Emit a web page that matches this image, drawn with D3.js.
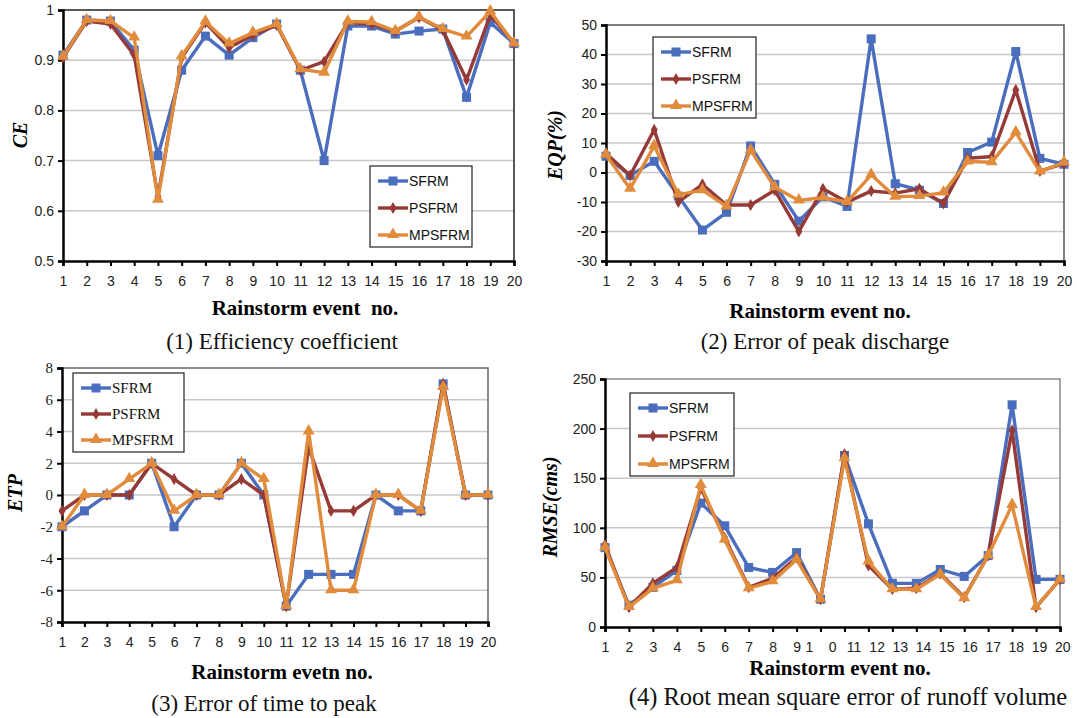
<!DOCTYPE html>
<html>
<head>
<meta charset="utf-8">
<script src="https://cdn.jsdelivr.net/npm/d3@7"></script>
<style>
  body { margin: 0; background: #fff; }
  svg { display: block; }
</style>
</head>
<body>
<svg id="chart" width="1077" height="718"></svg>
<script>
// rainstorm events 1..20
const events = d3.range(1, 21);
const seriesNames = ["SFRM", "PSFRM", "MPSFRM"];

// (1) efficiency coefficient
const ceSFRM   = [0.91, 0.98, 0.978, 0.92, 0.71, 0.88, 0.948, 0.91, 0.945, 0.972, 0.88, 0.70, 0.968, 0.968, 0.952, 0.958, 0.962, 0.826, 0.975, 0.933];
const cePSFRM  = [0.905, 0.978, 0.972, 0.91, 0.628, 0.905, 0.975, 0.925, 0.95, 0.97, 0.88, 0.897, 0.975, 0.972, 0.958, 0.985, 0.96, 0.861, 0.99, 0.935];
const ceMPSFRM = [0.907, 0.98, 0.978, 0.945, 0.622, 0.908, 0.977, 0.933, 0.955, 0.972, 0.882, 0.875, 0.977, 0.976, 0.958, 0.986, 0.962, 0.947, 0.997, 0.933];
const ceTicks  = [0.5, 0.6, 0.7, 0.8, 0.9, 1];

// (2) error of peak discharge
const eqpSFRM   = [5.5, -1, 3.8, -8, -19.5, -13.5, 9, -4, -16.5, -8.2, -11.5, 45.3, -3.8, -6, -10.5, 6.8, 10.3, 41, 4.8, 2.8];
const eqpPSFRM  = [6.5, -1, 14.5, -10, -4, -11, -11, -6, -20, -5.5, -10, -6.3, -7, -5.5, -10.5, 4.8, 5.4, 28, 0.5, 3];
const eqpMPSFRM = [6, -5.5, 9, -7.5, -6, -11.5, 7.5, -5, -9.5, -8.5, -10, -0.8, -8.2, -8, -6.8, 3.7, 3.5, 13.6, 0.3, 3.4];
const eqpTicks  = [-30, -20, -10, 0, 10, 20, 30, 40, 50];

// (3) error of time to peak
const etpSFRM   = [-2, -1, 0, 0, 2, -2, 0, 0, 2, 0, -7, -5, -5, -5, 0, -1, -1, 7, 0, 0];
const etpPSFRM  = [-1, 0, 0, 0, 2, 1, 0, 0, 1, 0, -7, 3, -1, -1, 0, 0, -1, 7, 0, 0];
const etpMPSFRM = [-2, 0, 0, 1, 2, -1, 0, 0, 2, 1, -7, 4, -6, -6, 0, 0, -1, 6.8, 0, 0];
const etpTicks  = [-8, -6, -4, -2, 0, 2, 4, 6, 8];

// (4) root mean square error of runoff volume
const rmseSFRM   = [80, 22, 40, 57, 125, 102, 60, 55, 75, 28, 173, 104, 44, 44, 58, 51, 72, 224, 48, 48];
const rmsePSFRM  = [83, 20, 44, 60, 140, 90, 40, 49, 70, 28, 174, 62, 38, 39, 54, 30, 72, 198, 20, 48];
const rmseMPSFRM = [80, 20, 39, 47, 143, 88, 39, 46, 68, 28, 170, 66, 38, 38, 53, 29, 72, 123, 20, 48];
const rmseTicks  = [0, 50, 100, 150, 200, 250];
const rmseXLabels = ["1","2","3","4","5","6","7","8","9","1    0","11","12","13","14","15","16","17","18","19","20"];

const colors = {SFRM: "#4a6ebd", PSFRM: "#953a36", MPSFRM: "#e08c3c"};
const SANS = "'Liberation Sans', Arial, sans-serif";
const SERIF = "'Liberation Serif', 'Times New Roman', serif";

const svg = d3.select("#chart");

function marker(g, name, x, y) {
  if (name == "SFRM") {
    g.append("rect").attr("x", x - 4.5).attr("y", y - 4.5).attr("width", 9).attr("height", 9)
      .attr("fill", colors.SFRM);
  } else if (name == "PSFRM") {
    g.append("path").attr("d", d3.symbol(d3.symbolDiamond, 42)())
      .attr("transform", "translate(" + x + "," + y + ")").attr("fill", colors.PSFRM);
  } else {
    g.append("path").attr("d", d3.symbol(d3.symbolTriangle, 62)())
      .attr("transform", "translate(" + x + "," + (y - 0.5) + ")").attr("fill", colors.MPSFRM);
  }
}

function drawPanel(p) {
  const x = d3.scalePoint().domain(events).range([p.left, p.right]);
  const y = d3.scaleLinear().domain(p.domain).range([p.bottom, p.top]);
  const g = svg.append("g");

  // gridlines
  g.selectAll(".grid").data(p.ticks.slice(1, -1)).enter().append("line")
    .attr("x1", p.left).attr("x2", p.right)
    .attr("y1", d => y(d)).attr("y2", d => y(d))
    .attr("stroke", "#c8c8c8").attr("stroke-width", 1.5);

  // top / right frame
  g.append("path")
    .attr("d", "M" + p.left + "," + p.top + "H" + p.right + "V" + p.bottom)
    .attr("fill", "none").attr("stroke", p.frame).attr("stroke-width", 1.5);

  // axes
  const yAxis = d3.axisLeft(y).tickValues(p.ticks).tickSize(5).tickPadding(4)
    .tickFormat(d => d);
  const ya = g.append("g").attr("transform", "translate(" + p.left + ",0)").call(yAxis);
  ya.select(".domain").attr("stroke", "#000").attr("stroke-width", 2.5);
  ya.selectAll(".tick line").attr("stroke", "#000").attr("stroke-width", 2);
  ya.selectAll("text").attr("font-family", p.yFont).attr("font-size", p.yFont == SERIF ? 15 : 14)
    .attr("fill", "#222");

  const xAxis = d3.axisBottom(x).tickSize(5).tickPadding(10)
    .tickFormat((d, i) => p.xLabels ? p.xLabels[i] : d);
  const xa = g.append("g").attr("transform", "translate(0," + p.bottom + ")").call(xAxis);
  xa.select(".domain").attr("stroke", "#000").attr("stroke-width", 2.5);
  xa.selectAll(".tick line").attr("stroke", "#000").attr("stroke-width", 2);
  xa.selectAll("text").attr("font-family", SANS).attr("font-size", 14).attr("fill", "#222")
    .style("white-space", "pre");
  // labels after the spread-out "1 0" sit a little right of their ticks
  if (p.xLabelShift) xa.selectAll("text").attr("dx", (d, i) => p.xLabelShift(i));

  // series
  const line = d3.line().x((d, i) => x(events[i])).y(d => y(d));
  seriesNames.forEach(name => {
    const vals = p.series[name];
    g.append("path").datum(vals).attr("d", line)
      .attr("fill", "none").attr("stroke", colors[name]).attr("stroke-width", 3.4)
      .attr("stroke-linejoin", "miter");
    vals.forEach((v, i) => marker(g, name, x(events[i]), y(v)));
  });

  // legend
  const L = p.legend;
  g.append("rect").attr("x", L.x).attr("y", L.y).attr("width", L.w).attr("height", L.h)
    .attr("fill", "#fff").attr("stroke", "#222").attr("stroke-width", 1.2);
  seriesNames.forEach((name, i) => {
    const ly = L.y + L.first + i * L.step;
    g.append("line").attr("x1", L.x + 8).attr("x2", L.x + 38).attr("y1", ly).attr("y2", ly)
      .attr("stroke", colors[name]).attr("stroke-width", 3.4);
    marker(g, name, L.x + 23, ly);
    g.append("text").attr("x", L.x + 39).attr("y", ly + 5).text(name)
      .attr("font-family", L.font).attr("font-size", L.size).attr("fill", "#111");
  });

  // titles
  g.append("text").attr("x", p.xTitle[0]).attr("y", p.xTitle[1]).attr("text-anchor", "middle")
    .attr("font-family", SERIF).attr("font-weight", "bold").attr("font-size", 21)
    .style("white-space", "pre").text(p.xTitleText);
  g.append("text").attr("transform", "translate(" + p.yTitle[0] + "," + p.yTitle[1] + ") rotate(-90)")
    .attr("text-anchor", "middle").attr("font-family", SERIF).attr("font-weight", "bold")
    .attr("font-style", "italic").attr("font-size", 20).text(p.yTitleText);
  g.append("text").attr("x", p.caption[0]).attr("y", p.caption[1]).attr("text-anchor", "middle")
    .attr("font-family", SERIF).attr("font-size", p.captionSize).attr("fill", "#111").text(p.captionText);
}

drawPanel({
  left: 63, right: 514, top: 10, bottom: 261, domain: [0.5, 1], ticks: ceTicks,
  yFont: SANS, frame: "#222",
  series: {SFRM: ceSFRM, PSFRM: cePSFRM, MPSFRM: ceMPSFRM},
  legend: {x: 370, y: 166, w: 102, h: 81, first: 15, step: 27, font: SANS, size: 14},
  xTitle: [305, 315], xTitleText: "Rainstorm event  no.",
  yTitle: [27, 135], yTitleText: "CE",
  caption: [282, 349], captionText: "(1) Efficiency coefficient", captionSize: 23
});

drawPanel({
  left: 606, right: 1064, top: 25, bottom: 261, domain: [-30, 50], ticks: eqpTicks,
  yFont: SANS, frame: "#555",
  series: {SFRM: eqpSFRM, PSFRM: eqpPSFRM, MPSFRM: eqpMPSFRM},
  legend: {x: 653, y: 37, w: 103, h: 81, first: 15, step: 27, font: SANS, size: 14},
  xTitle: [820, 318], xTitleText: "Rainstorm event no.",
  yTitle: [562, 145], yTitleText: "EQP(%)",
  caption: [825, 349], captionText: "(2) Error of peak discharge", captionSize: 23
});

drawPanel({
  left: 62, right: 488, top: 368, bottom: 622, domain: [-8, 8], ticks: etpTicks,
  yFont: SERIF, frame: "#666",
  series: {SFRM: etpSFRM, PSFRM: etpPSFRM, MPSFRM: etpMPSFRM},
  legend: {x: 73, y: 373, w: 111, h: 79, first: 15, step: 26, font: SERIF, size: 15},
  xTitle: [282, 679], xTitleText: "Rainstorm evetn no.",
  yTitle: [22, 493], yTitleText: "ETP",
  caption: [264, 711], captionText: "(3) Error of time to peak", captionSize: 23
});

drawPanel({
  left: 605, right: 1060, top: 379, bottom: 627, domain: [0, 250], ticks: rmseTicks,
  yFont: SANS, frame: "#888", xLabels: rmseXLabels,
  xLabelShift: i => i >= 10 ? 9 - (i - 10) * 0.75 : 0,
  series: {SFRM: rmseSFRM, PSFRM: rmsePSFRM, MPSFRM: rmseMPSFRM},
  legend: {x: 630, y: 393, w: 104, h: 83, first: 15, step: 28, font: SANS, size: 14},
  xTitle: [840, 675], xTitleText: "Rainstorm event no.",
  yTitle: [557, 507], yTitleText: "RMSE(cms)",
  caption: [848, 705], captionText: "(4) Root mean square error of runoff volume", captionSize: 24.5
});
</script>
</body>
</html>
